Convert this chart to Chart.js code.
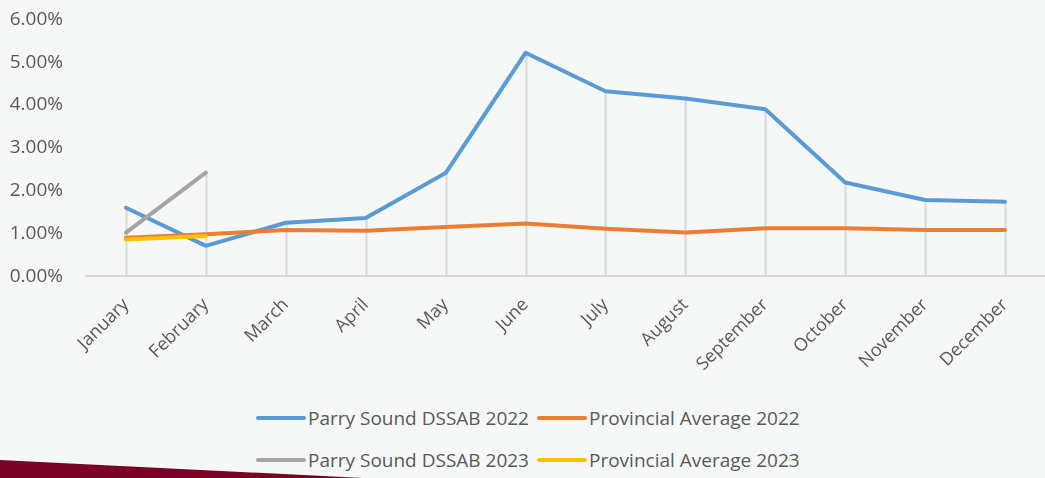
<!DOCTYPE html>
<html>
<head>
<meta charset="utf-8">
<script src="https://cdn.jsdelivr.net/npm/chart.js@4.4.1/dist/chart.umd.min.js"></script>
<style>
  html, body { margin: 0; padding: 0; background: #f6f8f8; }
  #wrap { position: relative; width: 1045px; height: 478px; overflow: hidden; background: #f6f8f8; }
  #chartBox { position: absolute; left: 0; top: -15px; width: 1045px; height: 408px; }
  #legend {
    position: absolute; left: 256px; top: 404px;
    display: grid; grid-template-columns: auto auto; column-gap: 8px; row-gap: 14px;
    font-family: 'Open Sans', sans-serif; font-size: 19px; color: #595959;
  }
  .item { display: flex; align-items: center; height: 28px; white-space: nowrap; }
  .swatch { display: inline-block; width: 50px; height: 4px; border-radius: 2px; margin-right: 2px; }
  #ribbon {
    position: absolute; left: 0; top: 460px; width: 400px; height: 18px; background: #7a0026;
    clip-path: polygon(0 0, 363px 18px, 0 18px);
  }
</style>
</head>
<body>
<div id="wrap">
  <div id="chartBox"><canvas id="rateChart"></canvas></div>
  <div id="legend"></div>
  <div id="ribbon"></div>
</div>
<script>
const months = ['January', 'February', 'March', 'April', 'May', 'June', 'July',
  'August', 'September', 'October', 'November', 'December'];
const parrySound2022 = [1.60, 0.71, 1.25, 1.36, 2.41, 5.22, 4.32, 4.15, 3.90, 2.19, 1.78, 1.74];
const provincial2022 = [0.90, 0.98, 1.08, 1.06, 1.15, 1.23, 1.11, 1.02, 1.12, 1.12, 1.08, 1.08];
const parrySound2023 = [1.02, 2.42];
const provincial2023 = [0.86, 0.94];
const yTicks = [0, 1, 2, 3, 4, 5, 6];

// Excel-style drop lines: from the highest point in each category down to the axis
const dropLines = {
  id: 'dropLines',
  beforeDatasetsDraw(chart) {
    const {ctx, scales: {x, y}} = chart;
    ctx.save();
    ctx.strokeStyle = '#d9d9d9';
    ctx.lineWidth = 2;
    months.forEach((m, i) => {
      let top = null;
      chart.data.datasets.forEach(ds => {
        const v = ds.data[i];
        if (v != null && (top === null || v > top)) top = v;
      });
      if (top === null) return;
      const px = Math.round(x.getPixelForValue(i)) + 0.5;
      ctx.beginPath();
      ctx.moveTo(px, y.getPixelForValue(top));
      ctx.lineTo(px, y.getPixelForValue(0));
      ctx.stroke();
    });
    ctx.restore();
  }
};

const lineStyle = { borderWidth: 4, pointRadius: 0, tension: 0, borderJoinStyle: 'round', borderCapStyle: 'round' };

const ctx = document.getElementById('rateChart').getContext('2d');
const rateChart = new Chart(ctx, {
  type: 'line',
  data: {
    labels: months,
    datasets: [
      // later series sit on top, as in the original
      { label: 'Parry Sound DSSAB 2022', data: parrySound2022, borderColor: '#5b9bd5', order: 3, ...lineStyle },
      { label: 'Provincial Average 2022', data: provincial2022, borderColor: '#ed7d31', order: 2, ...lineStyle },
      { label: 'Parry Sound DSSAB 2023', data: parrySound2023, borderColor: '#a5a5a5', order: 1, ...lineStyle },
      { label: 'Provincial Average 2023', data: provincial2023, borderColor: '#ffc000', order: 0, ...lineStyle },
    ],
  },
  options: {
    responsive: true,
    maintainAspectRatio: false,
    animation: false,
    layout: { padding: { top: -4, right: 0, left: 7, bottom: 0 } },
    plugins: {
      legend: { display: false },
      tooltip: { enabled: false },
    },
    scales: {
      x: {
        offset: true,
        grid: { display: false, drawTicks: false },
        border: { display: true, color: '#d9d9d9', width: 2 },
        ticks: {
          maxRotation: 45, minRotation: 45, padding: 18,
          color: '#595959',
          font: { family: 'Open Sans', size: 18 },
        },
      },
      y: {
        min: 0, max: 6,
        afterBuildTicks: (scale) => { scale.ticks = yTicks.map(v => ({ value: v })); },
        afterFit: (scale) => { scale.width = 79; },
        grid: { display: false, drawTicks: false },
        border: { display: false },
        ticks: {
          padding: 23,
          color: '#595959',
          font: { family: 'Open Sans', size: 19 },
          callback: (v) => v.toFixed(2) + '%',
        },
      },
    },
  },
  plugins: [dropLines],
});

// legend laid out in two rows like the original
const legendEl = document.getElementById('legend');
rateChart.data.datasets.forEach(ds => {
  const item = document.createElement('div');
  item.className = 'item';
  const sw = document.createElement('span');
  sw.className = 'swatch';
  sw.style.background = ds.borderColor;
  const txt = document.createElement('span');
  txt.textContent = ds.label;
  item.appendChild(sw);
  item.appendChild(txt);
  legendEl.appendChild(item);
});
</script>
</body>
</html>
